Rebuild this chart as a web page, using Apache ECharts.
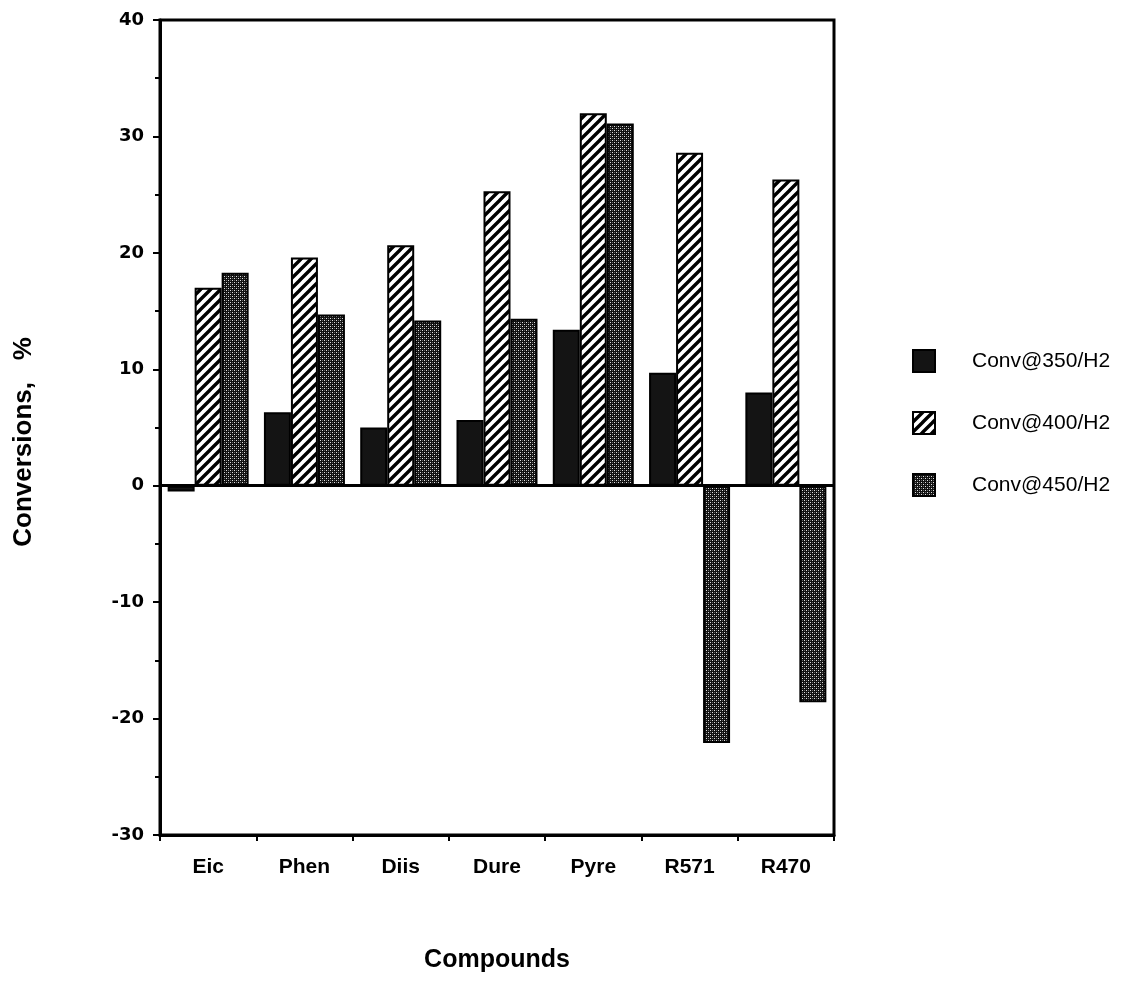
<!DOCTYPE html>
<html>
<head>
<meta charset="utf-8">
<script src="https://cdn.jsdelivr.net/npm/echarts@6/dist/echarts.min.js"></script>
<style>
  html, body { margin: 0; padding: 0; background: #fff; }
  #chart { width: 1126px; height: 981px; }
</style>
</head>
<body>
<div id="chart"></div>
<script>
// Compounds on the category axis
const categories = ['Eic', 'Phen', 'Diis', 'Dure', 'Pyre', 'R571', 'R470'];

// Conversion (%) per compound at each temperature under H2
const conv350 = [-0.5, 6.3, 5.0, 5.65, 13.4, 9.7, 8.0];
const conv400 = [17.0, 19.6, 20.65, 25.3, 32.0, 28.6, 26.3];
const conv450 = [18.3, 14.7, 14.2, 14.35, 31.1, -22.1, -18.6];

const seriesNames = ['Conv@350/H2', 'Conv@400/H2', 'Conv@450/H2'];
const yTitle = 'Conversions,   %';
const xTitle = 'Compounds';

// Fill textures: solid dark, diagonal hatching, dark stipple
function hatchTile() {
  const s = 10;
  const c = document.createElement('canvas');
  c.width = s; c.height = s;
  const g = c.getContext('2d');
  g.fillStyle = '#fff';
  g.fillRect(0, 0, s, s);
  g.strokeStyle = '#000';
  g.lineWidth = 3.4;
  g.beginPath();
  for (const off of [-s, 0, s]) {
    g.moveTo(off - 1, s + 1);
    g.lineTo(off + s + 1, -1);
  }
  g.stroke();
  return c;
}

function stippleTile() {
  const c = document.createElement('canvas');
  c.width = 4; c.height = 4;
  const g = c.getContext('2d');
  g.fillStyle = '#111';
  g.fillRect(0, 0, 4, 4);
  g.fillStyle = '#e0e0e0';
  g.fillRect(0, 0, 1, 1);
  g.fillRect(2, 2, 1, 1);
  g.fillStyle = '#666';
  g.fillRect(2, 0, 1, 1);
  g.fillRect(0, 2, 1, 1);
  return c;
}

const fills = [
  '#141414',
  { image: hatchTile(), repeat: 'repeat' },
  { image: stippleTile(), repeat: 'repeat' }
];

const SANS = '"Liberation Sans", Arial, Helvetica, sans-serif';
const WIDE = '"DejaVu Sans", sans-serif';

const chart = echarts.init(document.getElementById('chart'), null, { renderer: 'canvas' });

function barSeries(name, data, fill, extra) {
  return Object.assign({
    name: name,
    type: 'bar',
    data: data,
    barWidth: 27,
    barGap: '0%',
    itemStyle: { color: fill, borderColor: '#000', borderWidth: 2 },
    emphasis: { disabled: true },
    animation: false
  }, extra || {});
}

chart.setOption({
  animation: false,
  backgroundColor: '#fff',
  grid: {
    left: 160, right: 292, top: 20, bottom: 146,
    show: true, borderColor: '#000', borderWidth: 3
  },
  legend: {
    orient: 'vertical',
    left: 907, top: 344,
    itemWidth: 22, itemHeight: 22,
    itemGap: 38,
    icon: 'rect',
    selectedMode: false,
    textStyle: { fontFamily: SANS, fontSize: 21, lineHeight: 22, color: '#000', padding: [0, 0, 0, 32] },
    data: seriesNames
  },
  graphic: [{
    type: 'text',
    x: 24, y: 442,
    rotation: Math.PI / 2,
    style: {
      text: yTitle,
      fontFamily: SANS, fontSize: 26, fontWeight: 'bold', fill: '#000',
      textAlign: 'center', textVerticalAlign: 'middle'
    },
    silent: true
  }],
  xAxis: {
    type: 'category',
    data: categories,
    position: 'bottom',
    name: xTitle,
    nameLocation: 'middle',
    nameGap: 113,
    nameTextStyle: { fontFamily: SANS, fontSize: 25, fontWeight: 'bold', color: '#000' },
    axisLine: { onZero: false, lineStyle: { color: '#000', width: 3 } },
    axisTick: { show: true, alignWithLabel: false, length: 6, lineStyle: { color: '#000', width: 2 } },
    axisLabel: { fontFamily: SANS, fontSize: 21, fontWeight: 'bold', color: '#000', margin: 22 },
    splitLine: { show: false }
  },
  yAxis: {
    type: 'value',
    min: -30, max: 40, interval: 10,
    axisLine: { show: true, lineStyle: { color: '#000', width: 3 } },
    axisTick: { show: true, length: 7, lineStyle: { color: '#000', width: 2 } },
    minorTick: { show: true, splitNumber: 2, length: 5, lineStyle: { color: '#000', width: 2 } },
    axisLabel: { fontFamily: WIDE, fontSize: 18, fontWeight: 'bold', color: '#000', margin: 16 },
    splitLine: { show: false }
  },
  series: [
    barSeries(seriesNames[0], conv350, fills[0], {
      markLine: {
        silent: true,
        symbol: 'none',
        label: { show: false },
        lineStyle: { color: '#000', width: 3, type: 'solid' },
        data: [{ yAxis: 0 }],
        animation: false
      }
    }),
    barSeries(seriesNames[1], conv400, fills[1]),
    barSeries(seriesNames[2], conv450, fills[2])
  ]
});
</script>
</body>
</html>
